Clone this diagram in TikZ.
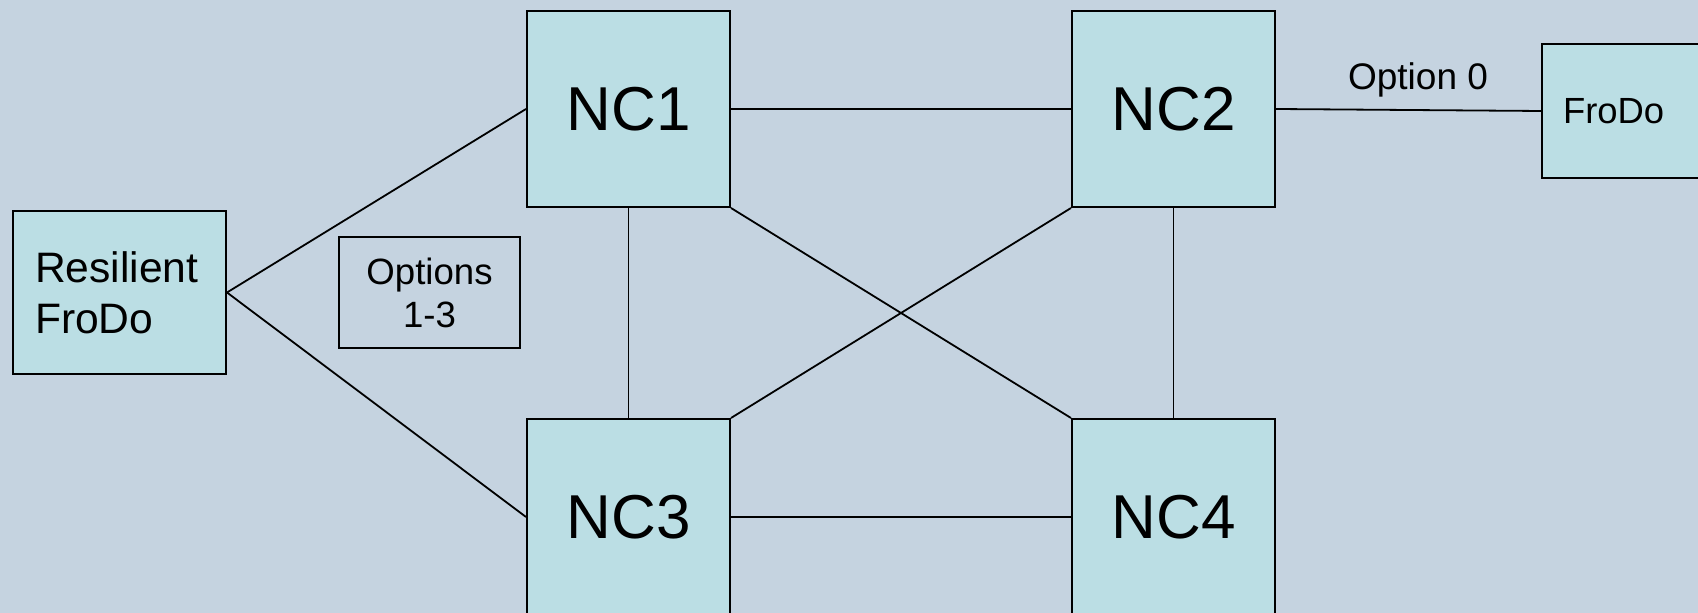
\documentclass[tikz,border=0pt]{standalone}
\usepackage{fontspec}
\setmainfont{Liberation Sans}
\definecolor{bgc}{HTML}{C5D3E0}
\definecolor{boxc}{HTML}{BBDEE4}
\begin{document}
\begin{tikzpicture}[x=0.5pt,y=-0.5pt,
  ncbox/.style={draw=black,line width=1pt,fill=boxc,minimum width=101.5pt,minimum height=98pt,inner sep=0pt,font=\fontsize{31}{37}\selectfont},
  link/.style={draw=black,line width=0.9pt},
  hlink/.style={draw=black,line width=1.1pt}]
\fill[bgc] (0,0) rectangle (1698,613);
\useasboundingbox (0,0) rectangle (1698,613);
\clip (0,0) rectangle (1698,613);
\node[ncbox] (nc1) at (628.5,109) {NC1};
\node[ncbox] (nc2) at (1173.5,109) {NC2};
\node[ncbox] (nc3) at (628.5,517) {NC3};
\node[ncbox] (nc4) at (1173.5,517) {NC4};
\node[draw=black,line width=1pt,fill=boxc,minimum height=81.5pt,text width=84.5pt,inner xsep=11pt,inner ysep=0pt,align=left,font=\fontsize{21.3}{25.5}\selectfont] (rf) at (119.5,292.5) {Resilient\\FroDo};
\node[draw=black,line width=0.8pt,minimum width=90.5pt,minimum height=55.5pt,inner sep=0pt,align=center,font=\fontsize{18.3}{21.5}\selectfont] (opt) at (429.5,292.5) {Options\\1-3};
\node[draw=black,line width=1pt,fill=boxc,minimum height=67pt,text width=79pt,inner xsep=10.5pt,inner ysep=0pt,align=left,anchor=west,font=\fontsize{18.2}{20}\selectfont] (fd) at (1541,111) {FroDo};
\node[font=\fontsize{18.5}{21}\selectfont,inner sep=0pt] (o0) at (1418,79.5) {Option 0};
\draw[link] (rf.east) -- (nc1.west);
\draw[link] (rf.east) -- (nc3.west);
\draw[hlink] (nc1.east) -- (nc2.west);
\draw[link] (nc3.east) -- (nc4.west);
\draw[link] (nc1.south) -- (nc3.north);
\draw[link] (nc2.south) -- (nc4.north);
\draw[link] (nc1.south east) -- (nc4.north west);
\draw[link] (nc2.south west) -- (nc3.north east);
\draw[link] (nc2.east) -- (fd.west);
\end{tikzpicture}
\end{document}
